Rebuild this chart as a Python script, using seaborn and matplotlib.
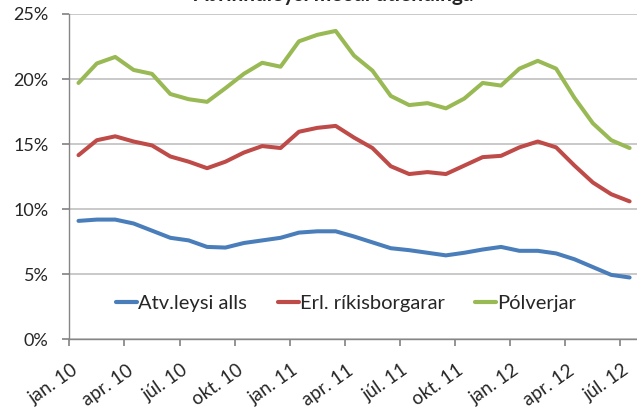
import numpy as np
import pandas as pd
import matplotlib
matplotlib.use("Agg")
import matplotlib.pyplot as plt
from matplotlib.ticker import FuncFormatter, FixedLocator, FixedFormatter, NullFormatter
import seaborn as sns

# ---- data (% of labour force) ----
monthNames = ["jan.", "feb.", "mar.", "apr.", "maí", "jún.",
              "júl.", "ágú.", "sep.", "okt.", "nóv.", "des."]
months = [f"{monthNames[m]} {y}" for y in (10, 11, 12) for m in range(12)][:31]

atvleysiAlls = [9.1, 9.2, 9.2, 8.9, 8.35, 7.8, 7.6, 7.1, 7.05, 7.4, 7.6, 7.8,
                8.2, 8.3, 8.3, 7.9, 7.45, 7.0, 6.85, 6.65, 6.45, 6.65, 6.9, 7.1,
                6.8, 6.8, 6.6, 6.15, 5.55, 4.95, 4.75]
erlRikisborgarar = [14.15, 15.3, 15.6, 15.2, 14.9, 14.05, 13.65, 13.15, 13.65, 14.35, 14.85, 14.7,
                    15.95, 16.25, 16.4, 15.5, 14.7, 13.3, 12.7, 12.85, 12.7, 13.35, 14.0, 14.1,
                    14.75, 15.2, 14.75, 13.35, 12.05, 11.15, 10.6]
polverjar = [19.7, 21.2, 21.7, 20.7, 20.4, 18.85, 18.45, 18.25, 19.3, 20.4, 21.25, 20.95,
             22.9, 23.4, 23.7, 21.8, 20.65, 18.7, 18.0, 18.15, 17.75, 18.5, 19.7, 19.5,
             20.8, 21.4, 20.8, 18.55, 16.6, 15.3, 14.7]

seriesNames = ["Atv.leysi alls", "Erl. ríkisborgarar", "Pólverjar"]
colors = ["#4a7ebb", "#be4b48", "#98b954"]

df = pd.DataFrame({
    "idx": list(range(len(months))) * 3,
    "value": atvleysiAlls + erlRikisborgarar + polverjar,
    "series": [seriesNames[0]] * 31 + [seriesNames[1]] * 31 + [seriesNames[2]] * 31,
})

# ---- style ----
sns.set_theme(style="white")
plt.rcParams["font.family"] = ["Lato", "DejaVu Sans"]

fig = plt.figure(figsize=(6.37, 4.09), dpi=100)
ax = fig.add_axes([69.3 / 637, 69.7 / 409, 569.5 / 637, 325.3 / 409])

sns.lineplot(data=df, x="idx", y="value", hue="series", palette=colors,
             linewidth=2.9, ax=ax, legend=True)

ax.set_xlim(-0.5, 30.5)
ax.set_ylim(0, 25)
ax.set_yticks([0, 5, 10, 15, 20, 25])
ax.yaxis.set_major_formatter(FuncFormatter(lambda v, p: f"{v:.0f}%"))
ax.grid(axis="y", color="#c0c0c0", linewidth=1.2)
ax.set_axisbelow(True)

# tick marks sit between categories, every third month;
# labels ride on minor ticks just right of each mark
tickPos = [i - 0.5 for i in range(0, 31, 3)]
labelPos = [p + 0.1 for p in tickPos]
ax.xaxis.set_major_locator(FixedLocator(tickPos))
ax.xaxis.set_major_formatter(NullFormatter())
ax.xaxis.set_minor_locator(FixedLocator(labelPos))
ax.xaxis.set_minor_formatter(FixedFormatter([months[i] for i in range(0, 31, 3)]))
ax.set_xlabel("")
ax.set_ylabel("")

for s in ["top", "right"]:
    ax.spines[s].set_visible(False)
for s in ["left", "bottom"]:
    ax.spines[s].set_color("#868686")
    ax.spines[s].set_linewidth(1.0)

ax.tick_params(axis="y", length=5, color="#868686", labelsize=13, pad=10, left=True)
ax.tick_params(axis="x", which="major", length=5, color="#868686", bottom=True)
ax.tick_params(axis="x", which="minor", length=0, labelsize=13.5, pad=16, bottom=True)
for lab in ax.get_xticklabels(minor=True):
    lab.set_rotation(35)
    lab.set_ha("right")
    lab.set_va("top")
    lab.set_rotation_mode("anchor")

leg = ax.legend(loc="center", bbox_to_anchor=(0.486, 0.11), ncol=3, frameon=False,
                fontsize=14.5, handlelength=1.05, handletextpad=0.05, columnspacing=1.5)
for line in leg.get_lines():
    line.set_linewidth(3)

fig.text(333 / 637, 1 - 1 / 409, "Atvinnuleysi meðal útlendinga",
         ha="center", va="baseline", fontsize=15, fontweight="bold")

fig.savefig("out.png", dpi=100)
